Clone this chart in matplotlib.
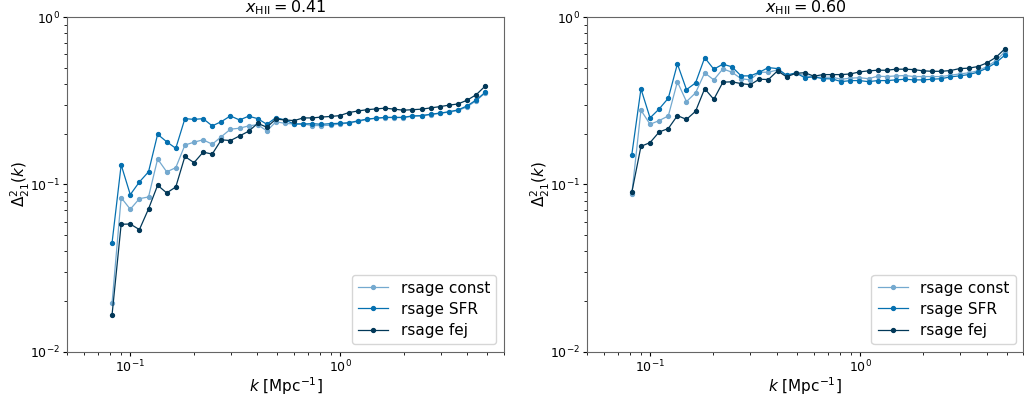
import numpy as np
import matplotlib
matplotlib.use('Agg')
import matplotlib.pyplot as plt

# k bins (Mpc^-1)
k = [0.0817, 0.0903, 0.0998, 0.1103, 0.1219, 0.1347, 0.1488, 0.1644, 0.1817, 0.2008,
     0.2219, 0.2452, 0.2709, 0.2994, 0.3308, 0.3655, 0.4039, 0.4463, 0.4932, 0.5450,
     0.6022, 0.6654, 0.7353, 0.8125, 0.8978, 0.9921, 1.0963, 1.2114, 1.3386, 1.4791,
     1.6344, 1.8060, 1.9957, 2.2052, 2.4367, 2.6926, 2.9753, 3.2877, 3.6329, 4.0144,
     4.4359, 4.9017]

# x_HII = 0.41
const_041 = [0.0195, 0.0834, 0.0711, 0.0822, 0.0842, 0.142, 0.119, 0.126, 0.172, 0.179,
             0.185, 0.174, 0.193, 0.214, 0.217, 0.224, 0.228, 0.209, 0.237, 0.232,
             0.230, 0.230, 0.225, 0.225, 0.226, 0.230, 0.233, 0.238, 0.245, 0.249,
             0.251, 0.251, 0.251, 0.256, 0.257, 0.262, 0.266, 0.271, 0.277, 0.291,
             0.317, 0.353]
sfr_041 = [0.0447, 0.131, 0.0869, 0.1035, 0.119, 0.1995, 0.180, 0.1645, 0.2475, 0.245,
           0.2475, 0.224, 0.2375, 0.257, 0.243, 0.256, 0.2475, 0.229, 0.251, 0.243,
           0.230, 0.230, 0.231, 0.229, 0.231, 0.232, 0.234, 0.240, 0.246, 0.249,
           0.252, 0.252, 0.252, 0.257, 0.258, 0.263, 0.267, 0.272, 0.279, 0.295,
           0.320, 0.356]
fej_041 = [0.0166, 0.0578, 0.0580, 0.0537, 0.0714, 0.0989, 0.0890, 0.0966, 0.147, 0.135,
           0.156, 0.152, 0.185, 0.183, 0.195, 0.208, 0.232, 0.220, 0.246, 0.243,
           0.241, 0.250, 0.250, 0.253, 0.255, 0.258, 0.269, 0.275, 0.280, 0.283,
           0.286, 0.282, 0.278, 0.280, 0.282, 0.287, 0.292, 0.298, 0.303, 0.319,
           0.344, 0.388]

# x_HII = 0.60
const_060 = [0.0878, 0.278, 0.229, 0.241, 0.257, 0.411, 0.313, 0.353, 0.465, 0.422,
             0.491, 0.469, 0.429, 0.422, 0.469, 0.469, 0.484, 0.450, 0.462, 0.448,
             0.438, 0.438, 0.438, 0.426, 0.432, 0.435, 0.429, 0.444, 0.442, 0.446,
             0.448, 0.442, 0.442, 0.442, 0.442, 0.450, 0.458, 0.465, 0.478, 0.507,
             0.550, 0.623]
sfr_060 = [0.151, 0.373, 0.250, 0.283, 0.328, 0.526, 0.369, 0.405, 0.573, 0.489,
           0.524, 0.505, 0.446, 0.446, 0.469, 0.500, 0.493, 0.450, 0.465, 0.435,
           0.440, 0.429, 0.428, 0.412, 0.418, 0.418, 0.412, 0.418, 0.418, 0.422,
           0.426, 0.422, 0.422, 0.426, 0.429, 0.440, 0.446, 0.454, 0.469, 0.496,
           0.535, 0.595]
fej_060 = [0.0898, 0.169, 0.178, 0.206, 0.216, 0.258, 0.245, 0.274, 0.374, 0.323,
           0.409, 0.411, 0.401, 0.395, 0.426, 0.424, 0.478, 0.440, 0.462, 0.466,
           0.444, 0.454, 0.454, 0.454, 0.458, 0.471, 0.478, 0.482, 0.482, 0.489,
           0.489, 0.486, 0.478, 0.475, 0.475, 0.480, 0.493, 0.496, 0.507, 0.533,
           0.576, 0.649]

labels = ['rsage const', 'rsage SFR', 'rsage fej']
colors = ['#74a9cf', '#0570b0', '#023858']
titles = [r'$x_\mathrm{HII} = 0.41$', r'$x_\mathrm{HII} = 0.60$']

panels = [[const_041, sfr_041, fej_041], [const_060, sfr_060, fej_060]]

fig, axes = plt.subplots(1, 2, figsize=(10.24, 4.01), dpi=100)
plt.subplots_adjust(left=0.0657, right=0.9995, top=0.957, bottom=0.123, wspace=0.191)

for ax, series, title in zip(axes, panels, titles):
    for vals, lab, col in zip(series, labels, colors):
        ax.plot(k, vals, color=col, lw=0.9, marker='o', ms=2.8, label=lab)
    ax.set_xscale('log')
    ax.set_yscale('log')
    ax.set_xlim(0.05, 6)
    ax.set_ylim(1e-2, 1)
    ax.set_title(title, fontsize=11.5, pad=0)
    ax.set_xlabel(r'$k$ [Mpc$^{-1}$]', fontsize=11, labelpad=0)
    ax.set_ylabel(r'$\Delta_{21}^2(k)$', fontsize=11)
    ax.yaxis.set_label_coords(-0.08, 0.5)
    ax.tick_params(labelsize=9, pad=2)
    ax.tick_params(which='major', length=3)
    ax.tick_params(which='minor', length=2)
    for s in ax.spines.values():
        s.set_color('#666666')
    ax.legend(loc='lower right', fontsize=11, labelspacing=0.4, borderaxespad=0.5)

fig.savefig('out.png', dpi=100)
